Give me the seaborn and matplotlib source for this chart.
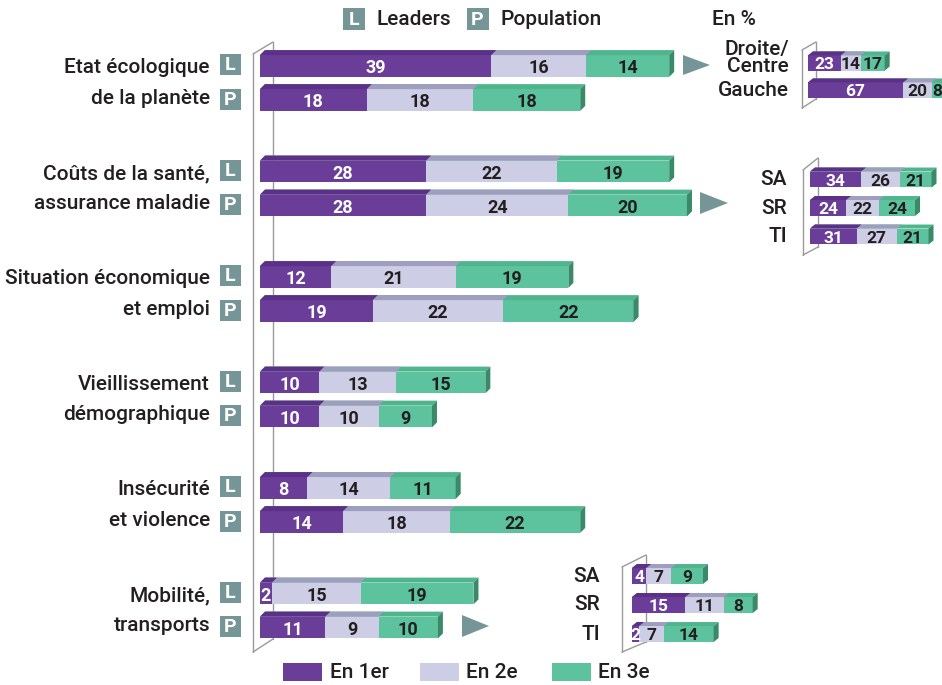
import matplotlib
matplotlib.use("Agg")
import matplotlib.pyplot as plt
import seaborn as sns
import pandas as pd
from matplotlib.patches import Polygon, Rectangle

# ---------------- data ----------------
cat_line1 = ["Etat écologique", "Coûts de la santé,", "Situation économique",
             "Vieillissement", "Insécurité", "Mobilité,"]
cat_line2 = ["de la planète", "assurance maladie", "et emploi",
             "démographique", "et violence", "transports"]
groups = ["L", "P"]
group_names = ["Leaders", "Population"]

leaders_1er = [39, 28, 12, 10, 8, 2]
leaders_2e = [16, 22, 21, 13, 14, 15]
leaders_3e = [14, 19, 19, 15, 11, 19]
pop_1er = [18, 28, 19, 10, 14, 11]
pop_2e = [18, 24, 22, 10, 18, 9]
pop_3e = [18, 20, 22, 9, 22, 10]

pol_labels = ["Droite/\nCentre", "Gauche"]
pol_1er = [23, 67]
pol_2e = [14, 20]
pol_3e = [17, 8]

sante_labels = ["SA", "SR", "TI"]
sante_1er = [34, 24, 31]
sante_2e = [26, 22, 27]
sante_3e = [21, 24, 21]

mob_labels = ["SA", "SR", "TI"]
mob_1er = [4, 15, 2]
mob_2e = [7, 11, 7]
mob_3e = [9, 8, 14]

legend_labels = ["En 1er", "En 2e", "En 3e"]
unit_label = "En %"

# ---------------- style ----------------
sns.set_theme(style="white")
plt.rcParams['font.family'] = ['Roboto', 'DejaVu Sans']

W, H = 942, 685
PURPLE, PURPLE_TOP = "#6a3d98", "#5b3087"
LAV, LAV_TOP = "#cecde6", "#a09ebf"
GREEN, GREEN_TOP, GREEN_SIDE = "#5cc39e", "#4fb58f", "#3a8a69"
BADGE = "#769597"
WALL = "#9a9a9a"
TXT = "#231f20"
COLS = [PURPLE, LAV, GREEN]
TOPS = [PURPLE_TOP, LAV_TOP, GREEN_TOP]
FS_LAB = 15
WT = "medium"

fig = plt.figure(figsize=(W / 100, H / 100), dpi=100)
fig.patch.set_facecolor("white")

# decoration axes in pixel coordinates
deco = fig.add_axes([0, 0, 1, 1], zorder=0)
deco.set_xlim(0, W)
deco.set_ylim(H, 0)
deco.set_axis_off()
deco.set_facecolor("none")


def px_axes(z):
    ax = fig.add_axes([0, 0, 1, 1], zorder=z)
    ax.set_facecolor("none")
    return ax


def finish(ax, x0, ppu, yc0, ppr):
    ax.set_xlim(-x0 / ppu, (W - x0) / ppu)
    ax.set_ylim((H - yc0) / ppr, -yc0 / ppr)
    ax.set_axis_off()


def faces(ax, patches, top_c, side_c, dx, dy):
    for p in patches:
        x0, w = p.get_x(), p.get_width()
        y0, h = p.get_y(), p.get_height()
        yt, yb = min(y0, y0 + h), max(y0, y0 + h)
        ax.add_patch(Polygon([(x0, yt), (x0 + w, yt), (x0 + w + dx, yt - dy), (x0 + dx, yt - dy)],
                             closed=True, fc=top_c, ec="none", lw=0))
        if side_c:
            ax.add_patch(Polygon([(x0 + w, yb), (x0 + w, yt), (x0 + w + dx, yt - dy), (x0 + w + dx, yb - dy)],
                                 closed=True, fc=side_c, ec="none", lw=0))


def stacked(ax, seg_lists, labels_keys, ppu, ppr, width, gap, fs, dxp=5, dyp=5):
    """seg_lists: list over hue groups of [s1, s2, s3] lists."""
    rows = []
    for g, segs in enumerate(seg_lists):
        for i, key in enumerate(labels_keys):
            a, b, c = segs[0][i], segs[1][i], segs[2][i]
            rows.append(dict(key=key, grp=g, c1=a, c2=a + b, c3=a + b + c))
    df = pd.DataFrame(rows)
    dx, dy = dxp / ppu, dyp / ppr
    for k in [3, 2, 1]:
        n0 = len(ax.patches)
        col = COLS[k - 1]
        if len(seg_lists) > 1:
            sns.barplot(data=df, x=f"c{k}", y="key", hue="grp", order=labels_keys,
                        hue_order=list(range(len(seg_lists))), palette=[col] * len(seg_lists),
                        orient="h", width=width, gap=gap, dodge=True, errorbar=None,
                        saturation=1, legend=False, linewidth=0, ax=ax)
        else:
            sns.barplot(data=df, x=f"c{k}", y="key", order=labels_keys, color=col,
                        orient="h", width=width, errorbar=None, saturation=1,
                        linewidth=0, ax=ax)
        new = list(ax.patches[n0:])
        faces(ax, new, TOPS[k - 1], GREEN_SIDE if k == 3 else None, dx, dy)
        for p in new:
            yc = p.get_y() + p.get_height() / 2
            i = int(round(yc))
            g = 0 if (len(seg_lists) == 1 or yc < i) else 1
            v = seg_lists[g][k - 1][i]
            xe = p.get_x() + p.get_width()
            ax.text(xe - v / 2, yc + 0.02 * (1 if len(seg_lists) > 1 else 3), str(v),
                    ha="center", va="center", fontsize=fs,
                    fontweight="bold", color="white" if k == 1 else TXT, zorder=5)


# ---------------- main chart ----------------
MX0, MPPU, MYC0, MPPR = 260, 5.93, 83, 105.5
MW, MGAP = 0.645, 0.36
main = px_axes(2)
keys = [str(i) for i in range(len(cat_line1))]
stacked(main, [[leaders_1er, leaders_2e, leaders_3e], [pop_1er, pop_2e, pop_3e]],
        keys, MPPU, MPPR, MW, MGAP, 13)
finish(main, MX0, MPPU, MYC0, MPPR)

# ---------------- insets ----------------
ins1 = px_axes(3)
stacked(ins1, [[pol_1er, pol_2e, pol_3e]], pol_labels, 1.42, 27, 0.56, 0, 12.5, 5, 4)
finish(ins1, 808, 1.42, 63, 27)

ins2 = px_axes(3)
stacked(ins2, [[sante_1er, sante_2e, sante_3e]], sante_labels, 1.5, 28.5, 0.56, 0, 12.5, 5, 4)
finish(ins2, 810, 1.5, 179.5, 28.5)

ins3 = px_axes(3)
stacked(ins3, [[mob_1er, mob_2e, mob_3e]], mob_labels, 3.55, 29, 0.55, 0, 12.5, 5, 4)
finish(ins3, 632, 3.55, 576, 29)

# ---------------- decorations ----------------
def wall(xo, xi, yo_t, yi_t, yo_b, yi_b):
    deco.plot([xo, xo], [yo_t, yo_b], color=WALL, lw=1)
    deco.plot([xo, xi], [yo_t, yi_t], color=WALL, lw=1)
    deco.plot([xo, xi], [yo_b, yi_b], color=WALL, lw=1)
    deco.plot([xi, xi], [yi_t, yi_b], color=WALL, lw=1)


wall(253, 273, 54, 42, 652, 639)
wall(802, 816, 50, 42, 108, 99)
wall(803, 818, 170, 158, 255, 247)
wall(622, 646, 567, 555, 652, 642)


def badge(xc, yc, letter, size=21):
    deco.add_patch(Rectangle((xc - size / 2, yc - size / 2), size, size, fc=BADGE, ec="none"))
    deco.text(xc, yc + 0.5, letter, ha="center", va="center", color="white",
              fontsize=14, fontweight="bold")


for i in range(len(cat_line1)):
    yl = MYC0 + MPPR * (i - MW / 4)
    yp = MYC0 + MPPR * (i + MW / 4)
    deco.text(210, yl + 2, cat_line1[i], ha="right", va="center", fontsize=FS_LAB,
              color=TXT, fontweight=WT)
    deco.text(210, yp - 2, cat_line2[i], ha="right", va="center", fontsize=FS_LAB,
              color=TXT, fontweight=WT)
    badge(230.5, yl - 1, groups[0])
    badge(230.5, yp - 1, groups[1])

# top legend
badge(354, 19, groups[0], 22)
deco.text(377, 19, group_names[0], ha="left", va="center", fontsize=FS_LAB, color=TXT, fontweight=WT)
badge(477.5, 19, groups[1], 22)
deco.text(500, 19, group_names[1], ha="left", va="center", fontsize=FS_LAB, color=TXT, fontweight=WT)
deco.text(712, 19, unit_label, ha="left", va="center", fontsize=FS_LAB, color=TXT, fontweight=WT)

# inset labels
for j, lab in enumerate(pol_labels):
    deco.text(789, 63 + 27 * j - (5 if j == 0 else 0), lab, ha="right", va="center",
              fontsize=FS_LAB, color=TXT, linespacing=0.9, multialignment="right", fontweight=WT)
for j, lab in enumerate(sante_labels):
    deco.text(787, 179.5 + 28.5 * j, lab, ha="right", va="center", fontsize=FS_LAB,
              color=TXT, fontweight=WT)
for j, lab in enumerate(mob_labels):
    deco.text(600, 576 + 29 * j, lab, ha="right", va="center", fontsize=FS_LAB,
              color=TXT, fontweight=WT)

# arrows
for tri in [[(683, 55), (683, 75), (710, 65)],
            [(700, 192), (700, 214), (728, 203)],
            [(462, 615), (462, 637), (489, 626)]]:
    deco.add_patch(Polygon(tri, closed=True, fc=BADGE, ec="none"))

# bottom legend
for xr, xt, c, lab in zip([283, 420, 552], [330, 466, 598], COLS, legend_labels):
    deco.add_patch(Rectangle((xr, 663), 39, 18, fc=c, ec="none"))
    deco.text(xt, 672, lab, ha="left", va="center", fontsize=FS_LAB, color=TXT, fontweight=WT)

fig.savefig("out.png", dpi=100)
